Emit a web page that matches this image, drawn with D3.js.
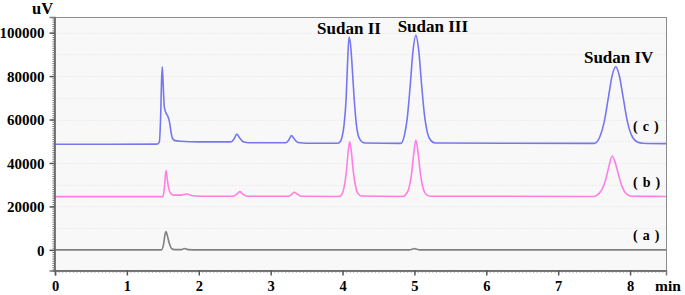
<!DOCTYPE html>
<html><head><meta charset="utf-8">
<script src="https://cdn.jsdelivr.net/npm/d3@7"></script>
<style>
body{margin:0;background:#fff;}
svg{display:block;}
text{font-family:"Liberation Serif","Times New Roman",serif;font-weight:bold;fill:#000;}
</style></head>
<body>
<svg id="chart" width="685" height="295"></svg>
<script>
// ---- data (time in min, signal in uV) ----
const traceA = [[0,0],[1.48,0],[1.51,2500],[1.53,7000],[1.545,8400],[1.56,7000],[1.59,3000],[1.62,700],[1.66,100],[1.76,100],[1.80,600],[1.85,100],[2.0,0],[4.93,0],[4.98,400],[5.0,600],[5.03,300],[5.08,0],[8.5,0]];
const traceB = [[0,24500],[1.50,24500],[1.52,28000],[1.535,34000],[1.545,36500],[1.56,33000],[1.58,28500],[1.61,26000],[1.65,25200],[1.75,25200],[1.83,25700],[1.9,25000],[2.0,24700],[2.48,24700],[2.53,25700],[2.57,26800],[2.61,25800],[2.67,24700],[3.25,24700],[3.29,25500],[3.33,26500],[3.37,25700],[3.43,24700],[3.95,24600],[3.99,25500],[4.02,28500],[4.05,35000],[4.08,45500],[4.10,49800],[4.12,46000],[4.15,36000],[4.18,29500],[4.21,26200],[4.26,24800],[4.84,24600],[4.88,25500],[4.92,28000],[4.96,35000],[4.99,44000],[5.02,50600],[5.05,45000],[5.08,36000],[5.12,28500],[5.16,25600],[5.22,24700],[7.50,24600],[7.57,26000],[7.62,28500],[7.67,33500],[7.71,39000],[7.75,43200],[7.79,40500],[7.84,34500],[7.89,29000],[7.95,25800],[8.03,24700],[8.5,24600]];
const traceC = [[0,48600],[1.42,48700],[1.45,49500],[1.47,62000],[1.48,75000],[1.492,84300],[1.505,76000],[1.52,66000],[1.544,63000],[1.57,61500],[1.595,58500],[1.615,54000],[1.64,51000],[1.67,50300],[1.75,50000],[2.0,49700],[2.45,49700],[2.49,51000],[2.53,53300],[2.57,51500],[2.62,49800],[2.7,49300],[3.21,49300],[3.25,50500],[3.29,52600],[3.33,51000],[3.38,49400],[3.5,49100],[3.93,49100],[3.96,49500],[3.99,51500],[4.02,57200],[4.05,69500],[4.07,86000],[4.09,98000],[4.11,94800],[4.13,86500],[4.16,70500],[4.19,58500],[4.22,52500],[4.26,50000],[4.31,49200],[4.81,49000],[4.86,52600],[4.90,60500],[4.94,75000],[4.98,91400],[5.02,98800],[5.06,91800],[5.10,76000],[5.14,62000],[5.18,54000],[5.23,50300],[5.29,49200],[7.50,49000],[7.58,52100],[7.64,58800],[7.70,70400],[7.75,80100],[7.80,84300],[7.85,80300],[7.90,71000],[7.96,59500],[8.02,52800],[8.10,49700],[8.18,49100],[8.5,48900]];
const xTicks = [0,1,2,3,4,5,6,7,8];
const yTicks = [0,20000,40000,60000,80000,100000];
const peakNames = ["Sudan II","Sudan III","Sudan IV"];
const peakTimes = [4.09,5.02,7.80];
const peakHeights = [98000,98800,84300];
const traceNames = ["(c)","(b)","(a)"];
const traceBaselines = [48600,24500,0];
const traceColors = ["#7676f2","#ff7ee6","#808080"];

// ---- layout ----
const svg = d3.select("#chart");
const L = 54.5, R = 666.5, T = 17.5, B = 270.5;
const x = d3.scaleLinear().domain([0,8.5]).range([55,666]);
const y = d3.scaleLinear().domain([-9500,107200]).range([270.5,17]);

// plot background
svg.append("rect").attr("x",L).attr("y",T).attr("width",R-L).attr("height",B-T).attr("fill","#f8f8f8");

// faint dotted gridlines
svg.append("g").selectAll("line").data(d3.range(10000,107000,10000)).join("line")
  .attr("x1",L+1).attr("x2",R-1).attr("y1",d=>Math.round(y(d))+0.5).attr("y2",d=>Math.round(y(d))+0.5)
  .attr("stroke","#e4e4e4").attr("stroke-dasharray","1,2");

// traces
const line = d3.line().x(d=>x(d[0])).y(d=>y(d[1])).curve(d3.curveMonotoneX);
[traceC,traceB,traceA].forEach((tr,i)=>{
  svg.append("path").datum(tr).attr("d",line).attr("fill","none")
    .attr("stroke",traceColors[i]).attr("stroke-width",1.6);
});

// frame
svg.append("rect").attr("x",L).attr("y",T).attr("width",R-L).attr("height",B-T)
  .attr("fill","none").attr("stroke","#8c8c8c").attr("stroke-width",1);

// left axis: minor + major
const gy = svg.append("g").attr("transform",`translate(${L},0)`);
gy.call(d3.axisLeft(y).tickValues(d3.range(-9000,107001,1000)).tickSize(2).tickFormat(""));
gy.call(g=>g.selectAll(".tick line").attr("stroke","#707070"));
const gy2 = svg.append("g").attr("transform",`translate(${L},0)`);
gy2.call(d3.axisLeft(y).tickValues(yTicks).tickSize(5).tickPadding(5).tickFormat(d3.format("d")));
gy2.selectAll(".domain").attr("stroke","#7a7a7a").attr("stroke-width",1.5);
gy2.selectAll(".tick line").attr("stroke","#555").attr("stroke-width",1.5);
gy2.selectAll(".tick text").attr("font-size",15).attr("font-family","Liberation Serif").attr("font-weight","bold").attr("fill","#000").attr("dy","0.35em");

// bottom axis
const gx = svg.append("g").attr("transform",`translate(0,${B})`);
gx.call(d3.axisBottom(x).tickValues(d3.range(0,8.51,0.05)).tickSize(2).tickFormat(""));
gx.selectAll(".tick line").attr("stroke","#707070");
const gx2 = svg.append("g").attr("transform",`translate(0,${B})`);
gx2.call(d3.axisBottom(x).tickValues(xTicks).tickSize(5).tickPadding(5).tickFormat(d3.format("d")));
gx2.selectAll(".domain").attr("stroke","#7a7a7a").attr("stroke-width",1.5);
gx2.selectAll(".tick line").attr("stroke","#555").attr("stroke-width",1.5);
gx2.selectAll(".tick text").attr("font-size",14.5).attr("font-family","Liberation Serif").attr("font-weight","bold").attr("fill","#000");

// axis units
svg.append("text").attr("x",32).attr("y",13.5).attr("font-size",16.5).text("uV");
svg.append("text").attr("x",655).attr("y",290.5).attr("font-size",15.5).text("min");

// peak labels
const pOff = [-3,-3,-4];
svg.append("g").selectAll("text").data(peakNames).join("text")
  .attr("x",(d,i)=>x(peakTimes[i])+[0,17,3][i]).attr("y",(d,i)=>y(peakHeights[i])+pOff[i])
  .attr("text-anchor","middle").attr("font-size",17).text(d=>d);

// trace labels
const lblOff = [-13,-10,-10];
svg.append("g").selectAll("text").data(traceNames).join("text")
  .attr("x",633).attr("y",(d,i)=>y(traceBaselines[i])+lblOff[i])
  .attr("font-size",14).attr("letter-spacing","5px").text(d=>d);
</script>
</body></html>
